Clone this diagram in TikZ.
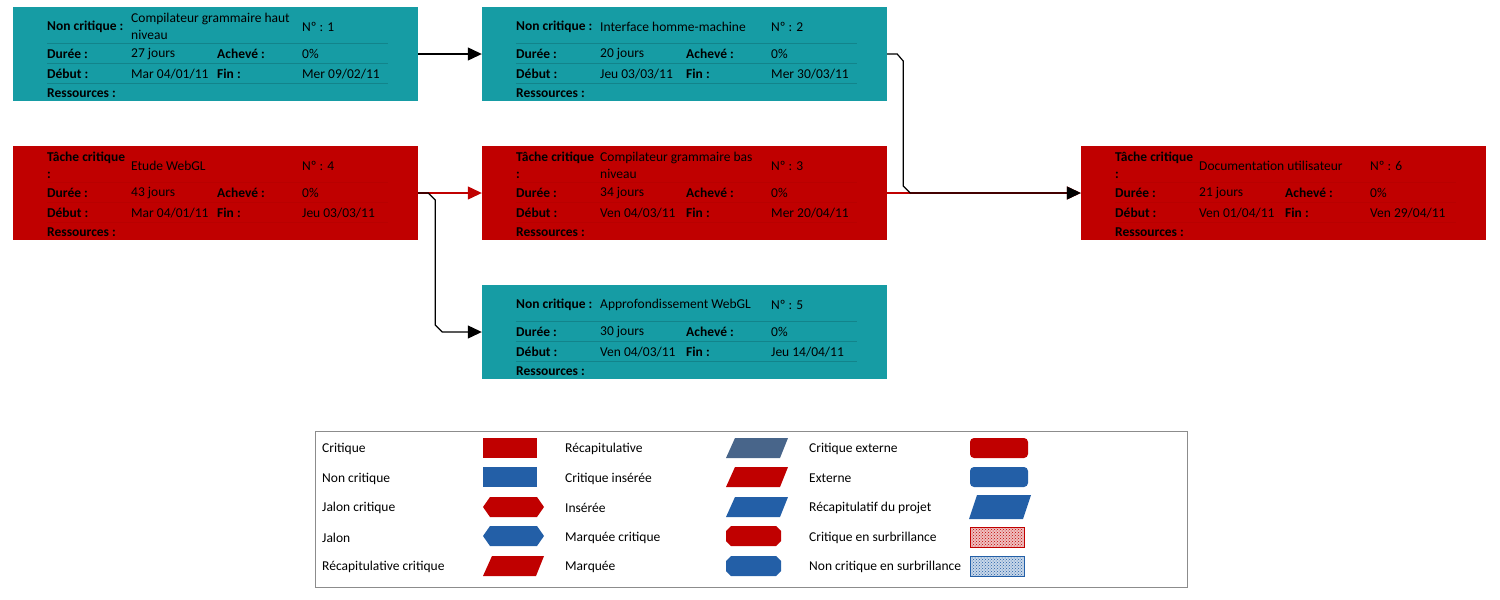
\documentclass[tikz,border=0pt]{standalone}
\usepackage{fontspec}
\setmainfont{Carlito}
\usetikzlibrary{arrows.meta,patterns}

\definecolor{critred}{RGB}{192,0,0}
\definecolor{noncrit}{RGB}{22,156,164}
\definecolor{legblue}{RGB}{35,95,167}
\definecolor{recapblue}{RGB}{72,101,138}

% one task box: name, corner, style, kind, title, no, duration, start, end
\newcommand{\tache}[9]{%
  \begin{scope}[shift={#2}]
    \node[#3] (#1) at (202.5,47) {};
    \draw[#3line] (34,36) -- (375,36);
    \draw[#3line] (34,56) -- (375,56);
    \draw[#3line] (34,76) -- (375,76);
    \node[lab] (#1-kind) at (34,19.5) {#4};
    \node[val] (#1-title) at (118,19.5) {#5};
    \node[val] (#1-no) at (289,19.5) {Nº : #6};
    \node[lab] (#1-dl) at (34,47) {Durée :};
    \node[val] (#1-dv) at (118,47) {#7};
    \node[lab] (#1-al) at (204,47) {Achevé :};
    \node[val] (#1-av) at (289,47) {0\%};
    \node[lab] (#1-sl) at (34,67) {Début :};
    \node[val] (#1-sv) at (118,67) {#8};
    \node[lab] (#1-fl) at (204,67) {Fin :};
    \node[val] (#1-fv) at (289,67) {#9};
    \node[lab] (#1-rl) at (34,86.5) {Ressources :};
  \end{scope}}

\begin{document}
\begin{tikzpicture}[x=1pt,y=-1pt,font=\fontsize{13.5}{17}\selectfont]
  \tikzstyle{task}=[minimum width=405pt,minimum height=94pt,inner sep=0pt]
  \tikzstyle{crit}=[task,fill=critred]
  \tikzstyle{noncr}=[task,fill=noncrit]
  \tikzstyle{critline}=[draw=black,opacity=0.04,line width=0.6pt]
  \tikzstyle{noncrline}=[draw=black,opacity=0.15,line width=0.6pt]
  \tikzstyle{lab}=[anchor=west,inner sep=0pt,align=left,font=\fontsize{13.5}{17}\selectfont\bfseries]
  \tikzstyle{val}=[anchor=west,inner sep=0pt,align=left]
  \tikzstyle{arc}=[draw=black,line width=1.2pt,-{Triangle[length=14pt,width=13pt]}]
  \tikzstyle{critarc}=[arc,draw=critred,fill=critred]
  \tikzstyle{legtxt}=[anchor=west,inner sep=0pt]
  \useasboundingbox (0,0) rectangle (1500,600);

  % tasks
  \tache{t1}{(13,7)}{noncr}{Non critique :}{Compilateur grammaire haut\\niveau}{1}{27 jours}{Mar 04/01/11}{Mer 09/02/11}
  \tache{t2}{(482,7)}{noncr}{Non critique :}{Interface homme-machine}{2}{20 jours}{Jeu 03/03/11}{Mer 30/03/11}
  \tache{t4}{(13,146)}{crit}{Tâche critique\\:}{Etude WebGL}{4}{43 jours}{Mar 04/01/11}{Jeu 03/03/11}
  \tache{t3}{(482,146)}{crit}{Tâche critique\\:}{Compilateur grammaire bas\\niveau}{3}{34 jours}{Ven 04/03/11}{Mer 20/04/11}
  \tache{t6}{(1081,146)}{crit}{Tâche critique\\:}{Documentation utilisateur}{6}{21 jours}{Ven 01/04/11}{Ven 29/04/11}
  \tache{t5}{(482,285)}{noncr}{Non critique :}{Approfondissement WebGL}{5}{30 jours}{Ven 04/03/11}{Jeu 14/04/11}

  % links
  \draw[critarc] (t4.east) -- (t3.west);
  \draw[critarc] (t3.east) -- (t6.west);
  \draw[arc] (t1.east) -- (t2.west);
  \draw[arc] (t2.east) -- ++(10,0) -- ++(6,7) -- ++(0,125) -- ++(7,7) -- (t6.west);
  \draw[arc] (t4.east) -- ++(10,0) -- ++(7,7) -- ++(0,125) -- ++(7,7) -- (t5.west);

  % legend
  \node[draw=black!45,line width=1pt,minimum width=872pt,minimum height=156pt,inner sep=0pt] (legende) at (751,509) {};
  \foreach \t [count=\i] in {Critique,Non critique,Jalon critique,Jalon,Récapitulative critique}
    \node[legtxt] (la-\i) at (322,{449+29.5*(\i-1)}) {\t};
  \foreach \t [count=\i] in {Récapitulative,Critique insérée,Insérée,Marquée critique,Marquée}
    \node[legtxt] (lb-\i) at (565,{449+29.5*(\i-1)}) {\t};
  \foreach \t [count=\i] in {Critique externe,Externe,Récapitulatif du projet,Critique en surbrillance,Non critique en surbrillance}
    \node[legtxt] (lc-\i) at (809,{449+29.5*(\i-1)}) {\t};

  \fill[critred,shift={(483,448)}] (0,-10) rectangle (54,10);
  \fill[legblue,shift={(483,477)}] (0,-10) rectangle (54,10);
  \fill[critred,shift={(483,507)}] (0,0) -- (7,-10) -- (54,-10) -- (61,0) -- (54,10) -- (7,10) -- cycle;
  \fill[legblue,shift={(483,536)}] (0,0) -- (7,-10) -- (54,-10) -- (61,0) -- (54,10) -- (7,10) -- cycle;
  \fill[critred,shift={(483,566)}] (9,-10) -- (61,-10) -- (53,10) -- (0,10) -- cycle;

  \fill[recapblue,shift={(726,448)}] (9,-10) -- (62,-10) -- (54,10) -- (0,10) -- cycle;
  \fill[critred,shift={(726,477)}] (9,-10) -- (62,-10) -- (54,10) -- (0,10) -- cycle;
  \fill[legblue,shift={(726,507)}] (9,-10) -- (62,-10) -- (54,10) -- (0,10) -- cycle;
  \fill[critred,shift={(726,536)}] (0,-5) -- (5,-10) -- (50,-10) -- (55,-5) -- (55,5) -- (50,10) -- (5,10) -- (0,5) -- cycle;
  \fill[legblue,shift={(726,566)}] (0,-5) -- (5,-10) -- (50,-10) -- (55,-5) -- (55,5) -- (50,10) -- (5,10) -- (0,5) -- cycle;

  \fill[critred,rounded corners=4pt,shift={(970,448)}] (0,-10) rectangle (58,10);
  \fill[legblue,rounded corners=4pt,shift={(970,477)}] (0,-10) rectangle (58,10);
  \fill[legblue,shift={(969,507)}] (8,-12) -- (62,-12) -- (54,12) -- (0,12) -- cycle;
  \filldraw[fill=critred!25,draw=critred,line width=1pt,shift={(970,537)}] (0,-10) rectangle (54,10);
  \fill[pattern=crosshatch dots,pattern color=critred,shift={(970,537)}] (1,-9) rectangle (53,9);
  \filldraw[fill=legblue!25,draw=legblue,line width=1pt,shift={(970,566)}] (0,-10) rectangle (54,10);
  \fill[pattern=crosshatch dots,pattern color=legblue,shift={(970,566)}] (1,-9) rectangle (53,9);
\end{tikzpicture}
\end{document}
